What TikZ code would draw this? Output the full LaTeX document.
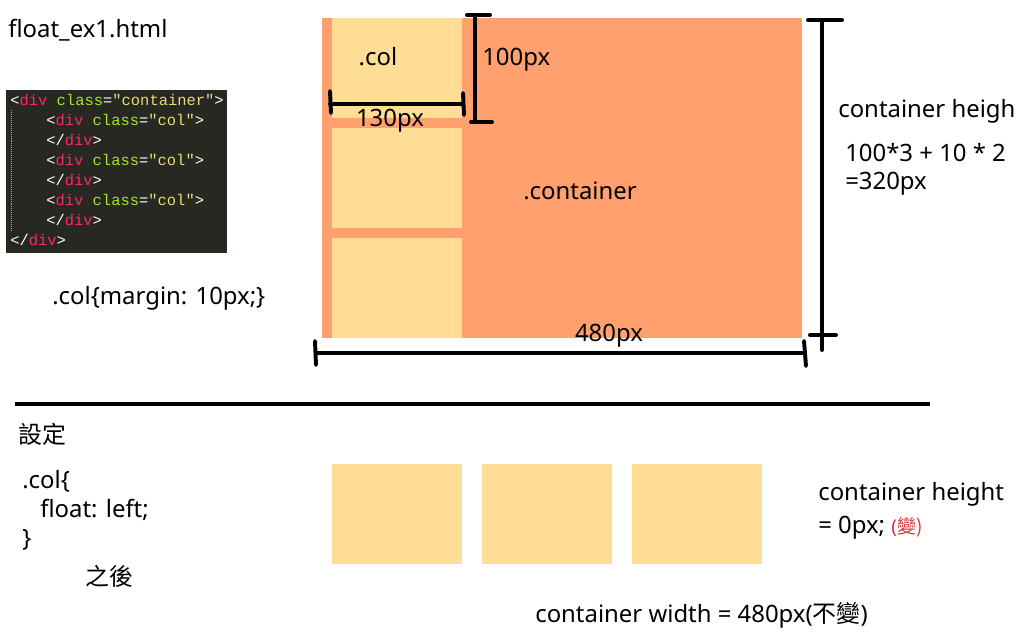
\documentclass[tikz,border=0pt]{standalone}
\usepackage{fontspec}
\setmainfont{Noto Sans}
\setmonofont{Liberation Mono}
\newfontfamily\cjk{Noto Sans CJK TC}

\definecolor{boxorange}{HTML}{FFA06E}
\definecolor{boxyellow}{HTML}{FFDD94}
\definecolor{codebg}{HTML}{272822}
\definecolor{mkpink}{HTML}{F92672}
\definecolor{mkgreen}{HTML}{A6E22E}
\definecolor{mkyellow}{HTML}{E6DB74}
\definecolor{notered}{HTML}{DC3038}

\newcommand{\ctag}[1]{\textcolor{mkpink}{#1}}
\newcommand{\cattr}[1]{\textcolor{mkgreen}{#1}}
\newcommand{\cstr}[1]{\textcolor{mkyellow}{#1}}

\tikzset{
    txt/.style={anchor=west, inner sep=0pt, font=\fontsize{17}{20}\selectfont},
    codeline/.style={anchor=west, inner sep=0pt, text=white, font=\fontsize{11}{14}\ttfamily},
    dim/.style={line width=2.8pt, line cap=round},
}

\begin{document}
\begin{tikzpicture}[x=0.025cm, y=-0.025cm]
    \useasboundingbox (0,0) rectangle (1019,644);

    \node[txt] (title) at (8,30) {float\_ex1.html};

    % html source
    \fill[codebg] (6,90) rectangle (227,253);
    \draw[gray!70, densely dotted] (11,110) to (11,232);
    \node[codeline] (code1) at (10,100) {<\ctag{div} \cattr{class}=\cstr{"container"}>};
    \node[codeline] (code2) at (46,120) {<\ctag{div} \cattr{class}=\cstr{"col"}>};
    \node[codeline] (code3) at (46,140) {</\ctag{div}>};
    \node[codeline] (code4) at (46,160) {<\ctag{div} \cattr{class}=\cstr{"col"}>};
    \node[codeline] (code5) at (46,180) {</\ctag{div}>};
    \node[codeline] (code6) at (46,200) {<\ctag{div} \cattr{class}=\cstr{"col"}>};
    \node[codeline] (code7) at (46,220) {</\ctag{div}>};
    \node[codeline] (code8) at (10,240) {</\ctag{div}>};

    \node[txt] (margin) at (52,298) {.col\{margin: 10px;\}};

    % container with the stacked cols
    \fill[boxorange] (322,18) rectangle (802,338);
    \foreach \y in {18,128,238} {
        \fill[boxyellow] (332,\y) rectangle (462,\y+100);
    }
    \node[txt, anchor=center] (colname) at (378,57) {.col};
    \node[txt, anchor=center] (contname) at (580,191) {.container};

    \coordinate (w1) at (330,104);
    \coordinate (w2) at (463,104);
    \draw[dim] (w1) to (w2);
    \draw[dim] (w1) ++(0,-13) -- ++(1,22);
    \draw[dim] (w2) ++(0,-11) -- ++(1,22);
    \node[txt, anchor=center] (colw) at (390,121) {130px};

    \coordinate (h1) at (475,15);
    \coordinate (h2) at (475,122);
    \draw[dim] (h1) to (h2);
    \draw[dim] (h1) ++(-8,0) -- ++(23,0);
    \draw[dim] (h2) ++(-4,0) -- ++(21,0);
    \node[txt] (colh) at (482,60) {100px};

    \coordinate (c1) at (822,20);
    \coordinate (c2) at (822,350);
    \draw[dim] (c1) to (c2);
    \draw[dim] (c1) ++(-14,0) -- ++(34,0);
    \draw[dim] (c2) ++(-12,-15) -- ++(26,0);
    \node[txt] (conth) at (838,111) {container heigh};
    \node[txt] (calc1) at (845,153) {100*3 + 10 * 2};
    \node[txt] (calc2) at (845,184) {=320px};

    \coordinate (b1) at (316,353);
    \coordinate (b2) at (804,353);
    \draw[dim] (b1) to (b2);
    \draw[dim] (b1) ++(-1,-12) -- ++(1,24);
    \draw[dim] (b2) ++(0,-12) -- ++(2,25);
    \node[txt, anchor=center] (contw) at (609,336) {480px};

    \draw[line width=3pt] (15,404) to (930,404);

    % after float: left
    \node[txt] (setting) at (18,434) {\cjk 設定};
    \node[txt] (rule1) at (22,481) {.col\{};
    \node[txt] (rule2) at (40,510) {float: left;};
    \node[txt] (rule3) at (22,540) {\}};
    \node[txt] (after) at (85,576) {\cjk 之後};

    \foreach \x in {332,482,632} {
        \fill[boxyellow] (\x,464) rectangle (\x+130,564);
    }

    \node[txt] (newh1) at (818,494) {container height};
    \node[txt] (newh2) at (818,528) {= 0px; {\fontsize{13.5}{16}\selectfont\color{notered}(\cjk 變)}};
    \node[txt] (neww) at (535,615) {container width = 480px({\cjk 不變})};
\end{tikzpicture}
\end{document}
